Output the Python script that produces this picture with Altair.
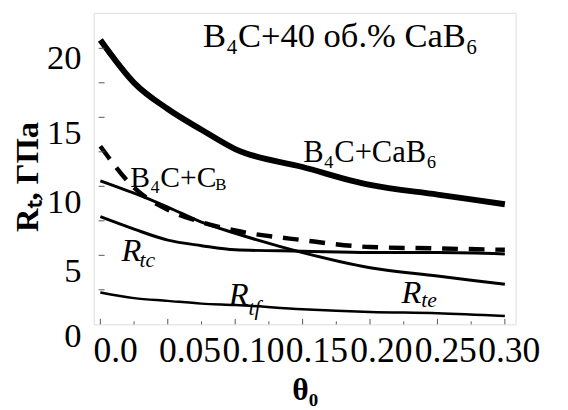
import altair as alt
import pandas as pd

# ---- data ----
theta = [0.0, 0.025, 0.05, 0.075, 0.10, 0.15, 0.20, 0.25, 0.30]
r_cab6 = [20.6, 17.5, 15.6, 14.1, 12.7, 11.4, 10.1, 9.4, 8.7]   # B4C+CaB6 (thick)
r_cb = [12.9, 9.9, 8.3, 7.4, 6.8, 6.1, 5.6, 5.5, 5.4]           # B4C+C_B (dashed)
r_te = [10.4, 9.5, 8.5, 7.4, 6.6, 5.2, 4.1, 3.5, 2.9]           # R_te
r_tc = [7.8, 6.9, 6.1, 5.7, 5.4, 5.3, 5.2, 5.2, 5.1]            # R_tc
r_tf = [2.3, 1.9, 1.7, 1.5, 1.4, 1.1, 0.9, 0.8, 0.6]            # R_tf

x_major = [0.0, 0.05, 0.10, 0.15, 0.20, 0.25, 0.30]
x_minor = [0.025, 0.075, 0.125, 0.175, 0.225, 0.275]
y_ticks = [2.5, 5, 7.5, 10, 12.5, 15, 17.5, 20]
y_labels = [0, 5, 10, 15, 20]

# annotations (data coordinates)
up_text = ["B₄C+40 об.% CaB₆", "B₄C+CaB₆"]
up_x = [0.178, 0.200]
up_y = [20.07, 11.79]
cb_text = ["B₄C+C"]
cb_x = [0.0222]
cb_y = [9.93]
cb_sub = ["В"]
cb_sub_x = [0.0852]
cb_sub_y = [9.71]
r_text = ["R", "R", "R"]
r_x = [0.0156, 0.0953, 0.2233]
r_y = [4.57, 1.43, 1.57]
sub_text = ["tc", "tf", "te"]
sub_x = [0.0290, 0.1099, 0.2379]
sub_y = [4.14, 0.71, 1.29]

FONT = "Liberation Serif"

xs = alt.Scale(domain=[-0.0049, 0.308], nice=False, zero=False)
ys = alt.Scale(domain=[0, 22.57], nice=False, zero=False)

def series_df(vals):
    return pd.DataFrame({"x": theta, "y": vals})

x_label_offset = {
    "condition": [
        {"test": "datum.value < 0.01", "value": 15},
        {"test": "datum.value < 0.06", "value": 22},
        {"test": "datum.value < 0.11", "value": 18},
        {"test": "datum.value < 0.16", "value": 14},
        {"test": "datum.value < 0.21", "value": 11},
        {"test": "datum.value < 0.26", "value": 8},
    ],
    "value": 4,
}
y_label_offset = {
    "condition": [
        {"test": "datum.value > 19", "value": 9},
        {"test": "datum.value < 1", "value": 12},
    ],
    "value": 16,
}

x_axis = alt.Axis(
    values=x_major,
    labelExpr="datum.value == 0 ? '0.0' : format(datum.value, '.2f')",
    labelFont=FONT, labelFontSize=36, labelColor="black",
    labelOffset=x_label_offset, labelPadding=10, labelOverlap=False, labelFlush=False,
    ticks=False, domain=False, grid=False,
    title="θ₀", titleFont=FONT, titleFontSize=32, titleFontWeight="bold",
    titleColor="black", titlePadding=6,
)
y_axis = alt.Axis(
    values=y_labels, format="d",
    labelFont=FONT, labelFontSize=35, labelColor="black",
    labelOffset=y_label_offset, labelPadding=13, labelOverlap=False, labelFlush=False,
    ticks=False, domain=False, grid=False,
    title="Rₜ, ГПа", titleFont=FONT, titleFontSize=33, titleFontWeight="bold",
    titleColor="black", titlePadding=2, titleY=166,
)

X = lambda f: alt.X(f, scale=xs, axis=x_axis)
Y = lambda f: alt.Y(f, scale=ys, axis=y_axis)

def line(vals, **kw):
    return alt.Chart(series_df(vals)).mark_line(color="black", interpolate="monotone", **kw).encode(
        x=X("x:Q"), y=Y("y:Q"),
    )

l_cab6 = line(r_cab6, strokeWidth=6)
l_cb = line(r_cb, strokeWidth=4.5, strokeDash=[16, 11])
l_te = line(r_te, strokeWidth=3)
l_tc = line(r_tc, strokeWidth=3)
l_tf = line(r_tf, strokeWidth=2.5)

tick_major = alt.Chart(pd.DataFrame({"x": x_major})).mark_rule(color="#555", strokeWidth=1).encode(
    x=X("x:Q"), y=alt.value(316), y2=alt.value(310.5))
tick_minor = alt.Chart(pd.DataFrame({"x": x_minor})).mark_rule(color="#555", strokeWidth=1).encode(
    x=X("x:Q"), y=alt.value(316), y2=alt.value(313))
tick_y = alt.Chart(pd.DataFrame({"y": y_ticks})).mark_rule(color="#555", strokeWidth=1).encode(
    y=Y("y:Q"), x=alt.value(5), x2=alt.value(11))

def text_layer(xv, yv, tv, size, align="left", style="normal"):
    df = pd.DataFrame({"x": xv, "y": yv, "t": tv})
    return alt.Chart(df).mark_text(
        font=FONT, fontSize=size, align=align, baseline="alphabetic",
        fontStyle=style, color="black",
    ).encode(x=X("x:Q"), y=Y("y:Q"), text="t:N")

t_title = text_layer(up_x[:1], up_y[:1], up_text[:1], 35, "center")
t_cab6 = text_layer(up_x[1:], up_y[1:], up_text[1:], 31, "center")
t_cb = text_layer(cb_x, cb_y, cb_text, 30)
t_cb_sub = text_layer(cb_sub_x, cb_sub_y, cb_sub, 17)
t_r = text_layer(r_x, r_y, r_text, 33, style="italic")
t_sub = text_layer(sub_x, sub_y, sub_text, 22, style="italic")

chart = alt.layer(
    l_cab6, l_cb, l_te, l_tc, l_tf,
    tick_major, tick_minor, tick_y,
    t_title, t_cab6, t_cb, t_cb_sub, t_r, t_sub,
).properties(
    width=428, height=316,
    autosize=alt.AutoSizeParams(type="none"),
    padding={"left": 87, "top": 2, "right": 45, "bottom": 84},
).configure_view(stroke="#555", strokeWidth=1).configure(background="white")

chart.save("out.html", embed_options={"renderer": "svg", "actions": False})
